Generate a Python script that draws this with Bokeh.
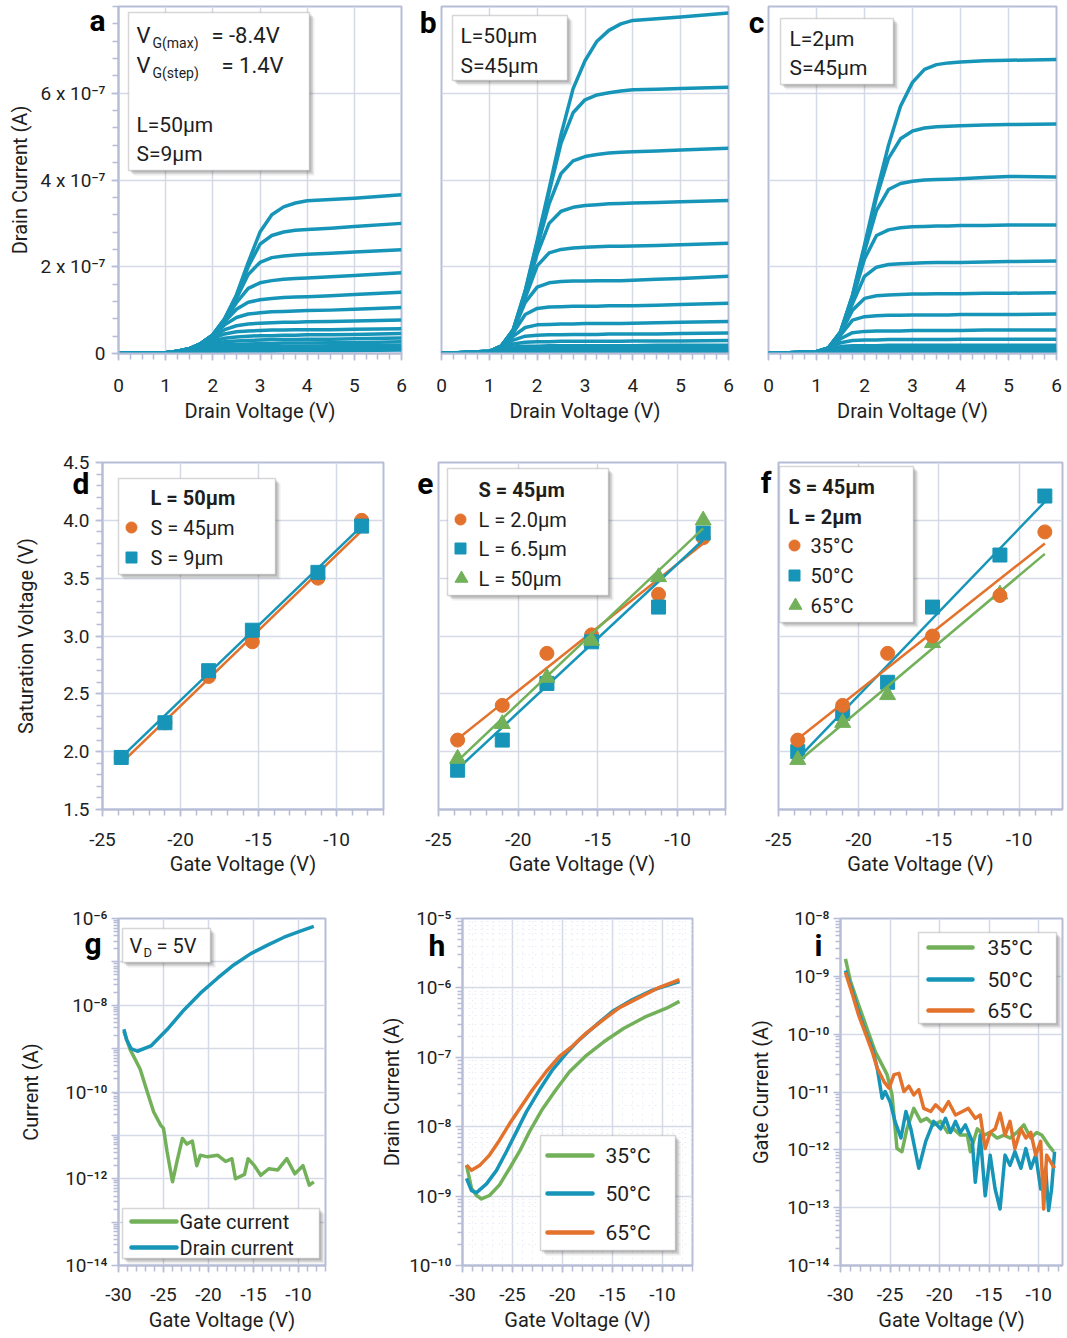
import numpy as np
from bokeh.plotting import figure
from bokeh.layouts import row, column
from bokeh.models import Label, FixedTicker, Range1d, BoxAnnotation, LinearAxis
from bokeh.embed import file_html
from bokeh.resources import INLINE

FONT = "Roboto"
BLUE = "#1795b8"
ORANGE = "#e2722c"
GREEN = "#72b15a"
FRAME_C = "#b8bdd7"
GRID_C = "#d6dae6"
TXT = "#1e1e1e"

# ---------------- Row 1: output characteristics (drain current in units of 1e-7 A) -------------
VD = [0, 1.0, 1.25, 1.5, 1.75, 2.0, 2.25, 2.5, 2.75, 3.0, 3.25, 3.5, 3.75, 4.0, 4.5, 5.0, 6.0]
ID_SCALE_LABEL = "x 10⁻⁷"
IDS_A = [
    [0, 0.02, 0.05, 0.11, 0.23, 0.43, 0.80, 1.35, 2.10, 2.80, 3.20, 3.38, 3.47, 3.52, 3.55, 3.58, 3.66],
    [0, 0.02, 0.05, 0.11, 0.23, 0.43, 0.80, 1.33, 2.00, 2.52, 2.72, 2.80, 2.84, 2.86, 2.89, 2.93, 3.00],
    [0, 0.02, 0.05, 0.11, 0.23, 0.43, 0.79, 1.27, 1.82, 2.10, 2.21, 2.25, 2.27, 2.29, 2.31, 2.34, 2.39],
    [0, 0.02, 0.05, 0.11, 0.23, 0.43, 0.77, 1.17, 1.50, 1.63, 1.68, 1.71, 1.73, 1.74, 1.77, 1.80, 1.86],
    [0, 0.02, 0.05, 0.11, 0.23, 0.42, 0.73, 1.02, 1.18, 1.24, 1.27, 1.29, 1.30, 1.31, 1.33, 1.36, 1.41],
    [0, 0.02, 0.05, 0.11, 0.23, 0.41, 0.66, 0.83, 0.91, 0.94, 0.96, 0.97, 0.98, 0.99, 1.00, 1.02, 1.06],
    [0, 0.02, 0.05, 0.11, 0.22, 0.39, 0.55, 0.64, 0.68, 0.70, 0.71, 0.72, 0.72, 0.73, 0.74, 0.75, 0.77],
    [0, 0.02, 0.05, 0.11, 0.21, 0.35, 0.45, 0.50, 0.52, 0.53, 0.54, 0.54, 0.55, 0.55, 0.55, 0.56, 0.57],
    [0, 0.02, 0.05, 0.10, 0.19, 0.29, 0.35, 0.38, 0.40, 0.41, 0.41, 0.42, 0.42, 0.43, 0.43, 0.44, 0.46],
    [0, 0.02, 0.04, 0.09, 0.16, 0.23, 0.27, 0.29, 0.30, 0.31, 0.32, 0.32, 0.32, 0.33, 0.33, 0.34, 0.36],
    [0, 0.02, 0.04, 0.08, 0.13, 0.17, 0.20, 0.21, 0.22, 0.23, 0.23, 0.24, 0.24, 0.24, 0.25, 0.25, 0.27],
    [0, 0.02, 0.03, 0.06, 0.10, 0.12, 0.14, 0.15, 0.16, 0.16, 0.17, 0.17, 0.17, 0.17, 0.18, 0.18, 0.19],
    [0, 0.01, 0.02, 0.05, 0.07, 0.08, 0.09, 0.10, 0.10, 0.11, 0.11, 0.11, 0.11, 0.12, 0.12, 0.12, 0.13],
    [0, 0.01, 0.02, 0.03, 0.04, 0.05, 0.05, 0.06, 0.06, 0.06, 0.06, 0.07, 0.07, 0.07, 0.07, 0.07, 0.08],
]
IDS_B = [
    [0, 0.05, 0.17, 0.55, 1.45, 2.60, 3.80, 5.05, 6.10, 6.75, 7.20, 7.45, 7.60, 7.68, 7.72, 7.76, 7.85],
    [0, 0.05, 0.17, 0.55, 1.43, 2.55, 3.72, 4.85, 5.55, 5.85, 5.96, 6.01, 6.05, 6.08, 6.09, 6.11, 6.14],
    [0, 0.05, 0.17, 0.54, 1.40, 2.45, 3.45, 4.15, 4.44, 4.54, 4.59, 4.62, 4.64, 4.65, 4.67, 4.69, 4.73],
    [0, 0.05, 0.17, 0.54, 1.35, 2.30, 3.00, 3.28, 3.37, 3.41, 3.43, 3.45, 3.46, 3.47, 3.48, 3.50, 3.53],
    [0, 0.05, 0.17, 0.53, 1.28, 2.02, 2.32, 2.40, 2.43, 2.45, 2.46, 2.47, 2.47, 2.48, 2.49, 2.51, 2.54],
    [0, 0.05, 0.17, 0.52, 1.18, 1.53, 1.63, 1.66, 1.67, 1.67, 1.68, 1.68, 1.68, 1.69, 1.71, 1.73, 1.78],
    [0, 0.05, 0.16, 0.48, 0.90, 1.04, 1.07, 1.08, 1.09, 1.09, 1.09, 1.10, 1.10, 1.10, 1.11, 1.13, 1.16],
    [0, 0.04, 0.15, 0.40, 0.60, 0.66, 0.67, 0.68, 0.68, 0.69, 0.69, 0.69, 0.69, 0.70, 0.71, 0.72, 0.74],
    [0, 0.04, 0.13, 0.31, 0.40, 0.42, 0.43, 0.43, 0.44, 0.44, 0.44, 0.45, 0.45, 0.45, 0.45, 0.46, 0.47],
    [0, 0.04, 0.11, 0.22, 0.26, 0.27, 0.27, 0.28, 0.28, 0.28, 0.28, 0.28, 0.28, 0.29, 0.29, 0.29, 0.30],
    [0, 0.03, 0.09, 0.15, 0.17, 0.17, 0.18, 0.18, 0.18, 0.18, 0.18, 0.18, 0.18, 0.18, 0.19, 0.19, 0.19],
    [0, 0.03, 0.07, 0.10, 0.11, 0.11, 0.11, 0.11, 0.11, 0.12, 0.12, 0.12, 0.12, 0.12, 0.12, 0.12, 0.12],
    [0, 0.02, 0.05, 0.06, 0.06, 0.07, 0.07, 0.07, 0.07, 0.07, 0.07, 0.07, 0.07, 0.07, 0.07, 0.07, 0.07],
    [0, 0.01, 0.03, 0.03, 0.04, 0.04, 0.04, 0.04, 0.04, 0.04, 0.04, 0.04, 0.04, 0.04, 0.04, 0.04, 0.04],
]
IDS_C = [
    [0, 0.04, 0.13, 0.50, 1.35, 2.50, 3.70, 4.80, 5.70, 6.25, 6.55, 6.66, 6.70, 6.72, 6.75, 6.76, 6.78],
    [0, 0.04, 0.13, 0.50, 1.33, 2.45, 3.60, 4.50, 4.95, 5.13, 5.20, 5.23, 5.24, 5.25, 5.27, 5.28, 5.29],
    [0, 0.04, 0.13, 0.49, 1.30, 2.35, 3.30, 3.78, 3.92, 3.97, 4.00, 4.01, 4.02, 4.03, 4.06, 4.08, 4.07],
    [0, 0.04, 0.13, 0.49, 1.25, 2.18, 2.72, 2.85, 2.90, 2.92, 2.93, 2.94, 2.94, 2.95, 2.95, 2.96, 2.96],
    [0, 0.04, 0.13, 0.48, 1.15, 1.78, 1.99, 2.05, 2.07, 2.08, 2.09, 2.10, 2.10, 2.10, 2.11, 2.12, 2.13],
    [0, 0.04, 0.13, 0.46, 1.00, 1.27, 1.33, 1.35, 1.36, 1.37, 1.37, 1.38, 1.38, 1.38, 1.39, 1.39, 1.40],
    [0, 0.04, 0.12, 0.42, 0.77, 0.85, 0.87, 0.88, 0.88, 0.89, 0.89, 0.89, 0.89, 0.90, 0.90, 0.90, 0.91],
    [0, 0.04, 0.11, 0.34, 0.48, 0.51, 0.52, 0.52, 0.52, 0.53, 0.53, 0.53, 0.53, 0.53, 0.54, 0.54, 0.54],
    [0, 0.03, 0.10, 0.25, 0.30, 0.31, 0.31, 0.32, 0.32, 0.32, 0.32, 0.32, 0.32, 0.33, 0.33, 0.33, 0.33],
    [0, 0.03, 0.08, 0.16, 0.18, 0.18, 0.18, 0.19, 0.19, 0.19, 0.19, 0.19, 0.19, 0.19, 0.19, 0.19, 0.19],
    [0, 0.02, 0.06, 0.10, 0.11, 0.11, 0.11, 0.11, 0.12, 0.12, 0.12, 0.12, 0.12, 0.12, 0.12, 0.12, 0.12],
    [0, 0.02, 0.04, 0.05, 0.06, 0.06, 0.06, 0.06, 0.06, 0.06, 0.06, 0.06, 0.06, 0.06, 0.06, 0.06, 0.06],
    [0, 0.01, 0.02, 0.03, 0.03, 0.04, 0.04, 0.04, 0.04, 0.04, 0.04, 0.04, 0.04, 0.04, 0.04, 0.04, 0.04],
]

# ---------------- Row 2: saturation voltage vs gate voltage -------------
VG_SAT = [-23.8, -21.0, -18.2, -15.4, -11.2, -8.4]
FIT_X = [-23.8, -8.4]
D_S45 = [1.95, 2.25, 2.65, 2.95, 3.50, 4.00]
D_S9 = [1.95, 2.25, 2.70, 3.05, 3.55, 3.95]
D_FIT_S45 = [1.90, 3.91]
D_FIT_S9 = [1.95, 3.95]
E_L2 = [2.10, 2.40, 2.85, 3.01, 3.36, 3.85]
E_L65 = [1.84, 2.10, 2.59, 2.95, 3.25, 3.89]
E_L50 = [1.94, 2.24, 2.64, 2.96, 3.51, 4.00]
E_FIT_L2 = [2.11, 3.80]
E_FIT_L65 = [1.85, 3.83]
E_FIT_L50 = [1.92, 3.93]
F_35C = [2.10, 2.40, 2.85, 3.00, 3.35, 3.90]
F_50C = [2.00, 2.33, 2.60, 3.25, 3.70, 4.21]
F_65C = [1.93, 2.25, 2.49, 2.94, 3.36, float("nan")]
F_FIT_35C = [2.11, 3.80]
F_FIT_50C = [1.94, 4.16]
F_FIT_65C = [1.91, 3.71]

# ---------------- Row 3: transfer curves (A) -------------
G_VG_DRAIN = [-29.4, -29.1, -28.6, -27.9, -26.4, -24.6, -22.7, -20.9, -19.0, -17.2, -15.3, -13.5, -11.6, -9.8, -8.3]
G_ID = [2.8e-9, 1.6e-9, 1.0e-9, 8.7e-10, 1.15e-9, 2.75e-9, 7.9e-9, 1.9e-8, 4.2e-8, 8.5e-8, 1.55e-7, 2.4e-7,
        3.7e-7, 5.1e-7, 6.6e-7]
G_VG_GATE = [-29.4, -28.7, -27.6, -26.8, -26.1, -25.3, -25.0, -24.6, -24.0, -23.5, -22.9, -22.4, -21.8, -21.3,
             -20.9, -20.1, -19.0, -18.1, -17.4, -17.0, -16.0, -15.6, -14.9, -14.2, -13.3, -12.3, -11.3, -10.4,
             -9.5, -8.8, -8.3]
G_IG = [2.5e-9, 9.5e-10, 3.4e-10, 1.0e-10, 3.5e-11, 1.7e-11, 1.45e-11, 4.2e-12, 8.5e-13, 2.5e-12, 8.5e-12,
        6.3e-12, 7.4e-12, 2.0e-12, 3.5e-12, 3.2e-12, 3.5e-12, 2.5e-12, 2.9e-12, 1.0e-12, 1.26e-12, 2.9e-12,
        2.0e-12, 1.2e-12, 1.7e-12, 1.6e-12, 2.9e-12, 1.3e-12, 2.0e-12, 7.1e-13, 8.5e-13]

H_VG_35 = [-29.6, -29.1, -28.6, -28.1, -27.3, -26.3, -25.3, -24.3, -23.3, -22.0, -20.6, -19.3, -17.6, -15.9,
           -13.9, -11.6, -9.6, -8.3]
H_ID_35 = [2.8e-9, 1.3e-9, 1.02e-9, 9.1e-10, 1.02e-9, 1.45e-9, 2.5e-9, 4.4e-9, 8.5e-9, 1.8e-8, 3.5e-8, 6.2e-8,
           1.07e-7, 1.66e-7, 2.6e-7, 3.9e-7, 5.1e-7, 6.4e-7]
H_VG_50 = [-29.6, -29.1, -28.6, -27.6, -26.6, -25.6, -24.6, -23.6, -22.3, -21.0, -19.6, -18.3, -16.6, -15.0,
           -13.0, -11.0, -8.3]
H_ID_50 = [1.8e-9, 1.2e-9, 1.12e-9, 1.5e-9, 2.35e-9, 4.4e-9, 8.5e-9, 1.65e-8, 3.4e-8, 6.6e-8, 1.15e-7, 1.8e-7,
           2.95e-7, 4.6e-7, 6.8e-7, 9.3e-7, 1.23e-6]
H_VG_65 = [-29.6, -29.1, -28.3, -27.3, -26.3, -25.3, -24.3, -23.0, -21.6, -20.3, -19.0, -17.6, -15.9, -14.3,
           -12.3, -10.3, -8.3]
H_ID_65 = [2.8e-9, 2.35e-9, 2.75e-9, 3.9e-9, 6.4e-9, 1.1e-8, 1.8e-8, 3.4e-8, 6.3e-8, 1.03e-7, 1.45e-7, 2.25e-7,
           3.5e-7, 5.2e-7, 7.3e-7, 1.02e-6, 1.31e-6]

I_VG_35 = [-29.5, -29.0, -28.3, -27.6, -27.0, -26.5, -25.8, -25.3, -24.8, -24.3, -23.8, -23.3, -22.6, -21.9,
           -21.3, -20.6, -19.9, -19.2, -18.6, -17.9, -17.2, -16.9, -16.2, -15.5, -14.9, -14.2, -13.5, -12.9,
           -12.2, -11.5, -10.8, -10.2, -9.7, -9.0, -8.5]
I_IG_35 = [2.0e-9, 8.3e-10, 3.7e-10, 1.7e-10, 8.7e-11, 5.0e-11, 2.95e-11, 2.0e-11, 8.9e-12, 1.05e-12, 9.3e-13,
           2.3e-12, 5.2e-12, 3.1e-12, 3.5e-12, 2.7e-12, 3.1e-12, 2.0e-12, 2.3e-12, 1.8e-12, 1.8e-12, 9.3e-13,
           2.3e-12, 1.8e-12, 2.0e-12, 1.6e-12, 1.8e-12, 1.6e-12, 2.0e-12, 2.7e-12, 1.6e-12, 2.0e-12, 1.8e-12,
           1.2e-12, 9.3e-13]
I_VG_50 = [-29.5, -28.8, -28.2, -27.5, -26.8, -26.3, -25.8, -25.5, -25.0, -24.5, -23.9, -23.4, -22.9, -22.1,
           -21.4, -20.6, -19.9, -19.4, -18.9, -18.4, -17.9, -17.4, -16.7, -16.4, -15.9, -15.4, -14.9, -14.4,
           -13.9, -13.4, -12.9, -12.4, -11.8, -11.3, -10.8, -10.3, -9.8, -9.3, -9.0, -8.7, -8.4]
I_IG_50 = [1.26e-9, 5.6e-10, 2.5e-10, 1.12e-10, 5.8e-11, 2.6e-11, 7.8e-12, 1.02e-11, 6.8e-12, 3.1e-12, 1.6e-12,
           4.6e-12, 2.3e-12, 4.8e-13, 1.4e-12, 3.1e-12, 2.3e-12, 3.5e-12, 2.0e-12, 3.1e-12, 2.0e-12, 2.7e-12,
           1.4e-12, 2.75e-13, 1.8e-12, 1.6e-13, 8.1e-13, 2.1e-13, 9.5e-14, 8.1e-13, 5.4e-13, 9.3e-13, 4.8e-13,
           1.05e-12, 4.8e-13, 8.1e-13, 2.1e-13, 4.8e-13, 8.9e-14, 2.1e-13, 9.3e-13]
I_VG_65 = [-29.5, -28.8, -28.2, -27.5, -26.8, -26.3, -25.6, -25.1, -24.6, -24.1, -23.6, -23.1, -22.6, -22.1,
           -21.6, -20.9, -20.4, -19.7, -19.1, -18.4, -17.7, -17.1, -16.4, -15.9, -15.4, -14.9, -14.4, -13.9,
           -13.4, -12.9, -12.4, -11.8, -11.3, -10.8, -10.3, -9.8, -9.5, -9.2, -8.8, -8.4]
I_IG_65 = [1.17e-9, 4.9e-10, 2.2e-10, 1.05e-10, 5.0e-11, 2.6e-11, 1.5e-11, 1.17e-11, 2.0e-11, 2.1e-11, 1.02e-11,
           1.26e-11, 8.9e-12, 1.1e-11, 5.2e-12, 4.6e-12, 6.0e-12, 4.6e-12, 6.8e-12, 4.0e-12, 4.6e-12, 5.2e-12,
           3.5e-12, 4.0e-12, 1.05e-12, 2.0e-12, 2.3e-12, 4.3e-12, 1.8e-12, 3.1e-12, 1.05e-12, 2.3e-12, 1.6e-12,
           2.0e-12, 8.1e-13, 1.4e-12, 9.5e-14, 8.1e-13, 6.2e-13, 4.8e-13]

# ---------------- tick labels -------------
SUP = str.maketrans("-0123456789", "⁻⁰¹²³⁴⁵⁶⁷⁸⁹")
def pow10(e):
    return "10" + str(e).translate(SUP)

TICK_VD = [0, 1, 2, 3, 4, 5, 6]
TICK_VD_LABELS = ["0", "1", "2", "3", "4", "5", "6"]
TICK_ID = [0, 2, 4, 6]
TICK_ID_LABELS = ["0", "2 " + ID_SCALE_LABEL, "4 " + ID_SCALE_LABEL, "6 " + ID_SCALE_LABEL]
TICK_VG_SAT = [-25, -20, -15, -10]
TICK_VG_SAT_LABELS = ["-25", "-20", "-15", "-10"]
TICK_VSAT = [1.5, 2.0, 2.5, 3.0, 3.5, 4.0, 4.5]
TICK_VSAT_LABELS = ["1.5", "2.0", "2.5", "3.0", "3.5", "4.0", "4.5"]
TICK_VG_T = [-30, -25, -20, -15, -10]
TICK_VG_T_LABELS = ["-30", "-25", "-20", "-15", "-10"]
EXP_G = [-14, -13, -12, -11, -10, -9, -8, -7, -6]
EXP_G_LABELED = [-14, -12, -10, -8, -6]
EXP_H = [-10, -9, -8, -7, -6, -5]
EXP_I = [-14, -13, -12, -11, -10, -9, -8]


class Geo:
    """page-pixel geometry of a plot frame, used to place annotations"""
    def __init__(self, left, top, w, h, xr, yr, ylog=False):
        self.left, self.top, self.w, self.h = left, top, w, h
        self.xr, self.yr, self.ylog = xr, yr, ylog

    def x(self, px):
        return self.xr[0] + (px - self.left) / self.w * (self.xr[1] - self.xr[0])

    def y(self, py):
        f = (self.top + self.h - py) / self.h
        if self.ylog:
            a, b = np.log10(self.yr[0]), np.log10(self.yr[1])
            return float(10 ** (a + f * (b - a)))
        return self.yr[0] + f * (self.yr[1] - self.yr[0])


def make_fig(g, bl, br, bt, bb):
    p = figure(frame_width=g.w, frame_height=g.h, min_border_left=bl, min_border_right=br,
               min_border_top=bt, min_border_bottom=bb, x_range=Range1d(*g.xr), y_range=Range1d(*g.yr),
               y_axis_type="log" if g.ylog else "linear", toolbar_location=None, output_backend="svg")
    p.outline_line_color = FRAME_C
    p.outline_line_width = 2
    p.outline_line_alpha = 1
    p.background_fill_color = "white"
    p.border_fill_color = "white"
    p.grid.grid_line_color = GRID_C
    p.grid.grid_line_width = 1.5
    for ax in p.axis:
        ax.axis_line_color = FRAME_C
        ax.axis_line_width = 2
        ax.major_tick_line_color = FRAME_C
        ax.minor_tick_line_color = FRAME_C
        ax.major_tick_line_width = 1.5
        ax.minor_tick_line_width = 1.5
        ax.major_tick_in = 0
        ax.major_tick_out = 7
        ax.minor_tick_in = 0
        ax.minor_tick_out = 6
        ax.major_label_text_font = FONT
        ax.major_label_text_font_size = "19px"
        ax.major_label_text_color = TXT
        ax.axis_label_text_font = FONT
        ax.axis_label_text_font_size = "20px"
        ax.axis_label_text_font_style = "normal"
        ax.axis_label_text_color = TXT
    return p


def set_ticks(p, xt, xl, xm, yt, yl, ym, xtitle, ytitle=None, xstand=(8, 2), ystand=(6, 6)):
    tx = FixedTicker(ticks=xt, minor_ticks=xm)
    ty = FixedTicker(ticks=yt, minor_ticks=ym)
    p.xaxis.ticker = tx
    p.xgrid.ticker = tx
    p.yaxis.ticker = ty
    p.ygrid.ticker = ty
    p.xaxis.major_label_overrides = dict(zip(xt, xl))
    p.yaxis.major_label_overrides = dict(zip(yt, yl))
    p.xaxis.axis_label = xtitle
    p.xaxis.major_label_standoff = xstand[0]
    p.xaxis.axis_label_standoff = xstand[1]
    if ytitle is None:
        p.yaxis.visible = False
    else:
        p.yaxis.axis_label = ytitle
        p.yaxis.major_label_standoff = ystand[0]
        p.yaxis.axis_label_standoff = ystand[1]


def box(p, g, x0, y0, x1, y1):
    for off, alpha in ((5, 0.10), (3.5, 0.14), (2, 0.2)):
        p.add_layout(BoxAnnotation(left=g.x(x0 + off), right=g.x(x1 + off), top=g.y(y0 + off),
                                   bottom=g.y(y1 + off), fill_color="#505050", fill_alpha=alpha,
                                   line_alpha=0, level="annotation"))
    p.add_layout(BoxAnnotation(left=g.x(x0), right=g.x(x1), top=g.y(y0), bottom=g.y(y1),
                               fill_color="white", fill_alpha=1, line_color="#7a7a7a", line_width=1.5,
                               level="annotation"))


def txt(p, g, px, py, s, size=20, bold=False, align="left", color=TXT):
    p.add_layout(Label(x=g.x(px), y=g.y(py), text=s, text_font=FONT, text_font_size=f"{size}px",
                       text_font_style="bold" if bold else "normal", text_align=align,
                       text_baseline="middle", text_color=color, level="overlay"))


def letter_axis(p, g, px_right, py, s):
    """panel letter as the single tick label of the (otherwise unused) left axis slot"""
    yv = g.y(py)
    ax = LinearAxis(ticker=FixedTicker(ticks=[yv], minor_ticks=[]), major_label_overrides={yv: s},
                    axis_line_color=None, major_tick_line_color=None, minor_tick_line_color=None,
                    major_tick_out=0, major_tick_in=0, minor_tick_out=0, minor_tick_in=0,
                    major_label_text_font=FONT, major_label_text_font_size="30px",
                    major_label_text_font_style="bold", major_label_text_color="black",
                    major_label_standoff=int(round(g.left - px_right)))
    p.add_layout(ax, "left")


def letter_title(p, g, px_left, py_bottom, s):
    """panel letter as the plot title, pulled down beside the frame"""
    p.title.text = s
    p.title.align = "left"
    p.title.vertical_align = "bottom"
    p.title.offset = int(round(px_left - g.left))
    p.title.standoff = -int(round(2 * (py_bottom - g.top)))
    p.title.text_font = FONT
    p.title.text_font_size = "30px"
    p.title.text_font_style = "bold"
    p.title.text_color = "black"


def lmark(p, g, px, py, marker, color, size):
    r = p.scatter([g.x(px)], [g.y(py)], marker=marker, size=size, color=color)
    r.level = "overlay"


def lline(p, g, px0, px1, py, color, w=4.5):
    r = p.line([g.x(px0), g.x(px1)], [g.y(py), g.y(py)], line_color=color, line_width=w, line_cap="round")
    r.level = "overlay"


# ================= Row 1 =================
ROW1_TOP, ROW1_H = 6, 347
YR1 = (0, 8)
XR1 = (0, 6)
ga = Geo(118, ROW1_TOP, 283, ROW1_H, XR1, YR1)
gb = Geo(441, ROW1_TOP, 287, ROW1_H, XR1, YR1)
gc = Geo(768, ROW1_TOP, 288, ROW1_H, XR1, YR1)
pa = make_fig(ga, 118, 12, 6, 87)
pb = make_fig(gb, 28, 10, 6, 87)
pc = make_fig(gc, 30, 8, 6, 87)
x_minor1 = [0.25 * k for k in range(25)]
y_minor1 = [round(0.4 * k, 2) for k in range(21)]
for p, curves in ((pa, IDS_A), (pb, IDS_B), (pc, IDS_C)):
    set_ticks(p, TICK_VD, TICK_VD_LABELS, x_minor1, TICK_ID, TICK_ID_LABELS, y_minor1,
              "Drain Voltage (V)", "Drain Current (A)" if p is pa else None, xstand=(18, 4), ystand=(6, 6))
    for c in curves:
        p.line(VD, c, line_color=BLUE, line_width=3.5, line_join="round")

box(pa, ga, 128, 12, 309, 170)
txt(pa, ga, 136, 35, "V", 22)
txt(pa, ga, 152, 42, "G(max)", 14)
txt(pa, ga, 211, 35, "= -8.4V", 22)
txt(pa, ga, 136, 65, "V", 22)
txt(pa, ga, 152, 72, "G(step)", 14)
txt(pa, ga, 221, 65, "= 1.4V", 22)
txt(pa, ga, 136, 124, "L=50μm", 21)
txt(pa, ga, 136, 153, "S=9μm", 21)
letter_title(pa, ga, 89, 37, "a")

box(pb, gb, 452, 15, 567, 80)
txt(pb, gb, 460, 35, "L=50μm", 21)
txt(pb, gb, 460, 65, "S=45μm", 21)
letter_axis(pb, gb, 436, 22, "b")

box(pc, gc, 780, 18, 893, 84)
txt(pc, gc, 789, 38, "L=2μm", 21)
txt(pc, gc, 789, 67, "S=45μm", 21)
letter_axis(pc, gc, 764, 22, "c")

# ================= Row 2 =================
ROW2_TOP, ROW2_H = 462, 347
YR2 = (1.5, 4.5)
gd = Geo(102, ROW2_TOP, 281, ROW2_H, (-25, -7), YR2)
ge = Geo(438, ROW2_TOP, 287, ROW2_H, (-25, -7), YR2)
gf = Geo(778, ROW2_TOP, 284, ROW2_H, (-25, -7.3), YR2)
pd = make_fig(gd, 102, 17, 22, 81)
pe = make_fig(ge, 38, 15, 22, 81)
pf = make_fig(gf, 38, 2, 22, 81)
x_minor2 = list(range(-25, -6))
y_minor2 = [round(1.5 + 0.1 * k, 2) for k in range(31)]
for p in (pd, pe, pf):
    set_ticks(p, TICK_VG_SAT, TICK_VG_SAT_LABELS, x_minor2, TICK_VSAT, TICK_VSAT_LABELS, y_minor2,
              "Gate Voltage (V)", "Saturation Voltage (V)" if p is pd else None, xstand=(16, 3), ystand=(6, 22))

MS_C, MS_S, MS_T = 14, 14, 16
pd.line(FIT_X, D_FIT_S45, line_color=ORANGE, line_width=2.5)
pd.scatter(VG_SAT, D_S45, marker="circle", size=MS_C, color=ORANGE)
pd.line(FIT_X, D_FIT_S9, line_color=BLUE, line_width=2.5)
pd.scatter(VG_SAT, D_S9, marker="square", size=MS_S, color=BLUE)

pe.line(FIT_X, E_FIT_L2, line_color=ORANGE, line_width=2.5)
pe.scatter(VG_SAT, E_L2, marker="circle", size=MS_C, color=ORANGE)
pe.line(FIT_X, E_FIT_L65, line_color=BLUE, line_width=2.5)
pe.scatter(VG_SAT, E_L65, marker="square", size=MS_S, color=BLUE)
pe.line(FIT_X, E_FIT_L50, line_color=GREEN, line_width=2.5)
pe.scatter(VG_SAT, E_L50, marker="triangle", size=MS_T, color=GREEN)

pf.line(FIT_X, F_FIT_50C, line_color=BLUE, line_width=2.5)
pf.scatter(VG_SAT, F_50C, marker="square", size=MS_S, color=BLUE)
pf.line(FIT_X, F_FIT_65C, line_color=GREEN, line_width=2.5)
pf.scatter(VG_SAT, F_65C, marker="triangle", size=MS_T, color=GREEN)
pf.line(FIT_X, F_FIT_35C, line_color=ORANGE, line_width=2.5)
pf.scatter(VG_SAT, F_35C, marker="circle", size=MS_C, color=ORANGE)

box(pd, gd, 118, 478, 275, 574)
txt(pd, gd, 150, 497, "L = 50μm", 20, bold=True)
lmark(pd, gd, 131, 527, "circle", ORANGE, 11)
txt(pd, gd, 150, 527, "S = 45μm", 20)
lmark(pd, gd, 131, 557, "square", BLUE, 11)
txt(pd, gd, 150, 557, "S = 9μm", 20)
letter_title(pd, gd, 72, 500, "d")

box(pe, ge, 447, 468, 608, 595)
txt(pe, ge, 478, 489, "S = 45μm", 20, bold=True)
lmark(pe, ge, 460, 519, "circle", ORANGE, 11)
txt(pe, ge, 478, 519, "L = 2.0μm", 20)
lmark(pe, ge, 460, 548, "square", BLUE, 11)
txt(pe, ge, 478, 548, "L = 6.5μm", 20)
lmark(pe, ge, 461, 578, "triangle", GREEN, 13)
txt(pe, ge, 478, 578, "L = 50μm", 20)
letter_axis(pe, ge, 433, 483, "e")

box(pf, gf, 779, 466, 913, 622)
txt(pf, gf, 788, 486, "S = 45μm", 20, bold=True)
txt(pf, gf, 788, 516, "L = 2μm", 20, bold=True)
lmark(pf, gf, 794, 545, "circle", ORANGE, 11)
txt(pf, gf, 810, 545, "35°C", 20)
lmark(pf, gf, 794, 575, "square", BLUE, 11)
txt(pf, gf, 810, 575, "50°C", 20)
lmark(pf, gf, 795, 605, "triangle", GREEN, 13)
txt(pf, gf, 810, 605, "65°C", 20)
letter_axis(pf, gf, 771, 482, "f")

# ================= Row 3 =================
ROW3_TOP, ROW3_H = 918, 347
gg = Geo(118, ROW3_TOP, 207, ROW3_H, (-30, -7), (1e-14, 1e-6), ylog=True)
gh = Geo(462, ROW3_TOP, 230, ROW3_H, (-30, -7), (1e-10, 1e-5), ylog=True)
gi = Geo(840, ROW3_TOP, 222, ROW3_H, (-30, -7.6), (1e-14, 1e-8), ylog=True)
pg = make_fig(gg, 118, 20, 28, 71)
ph = make_fig(gh, 117, 20, 28, 71)
pi = make_fig(gi, 128, 2, 28, 71)
x_minor3 = list(range(-30, -6))


def log_minor(e0, e1):
    return [k * 10.0 ** e for e in range(e0, e1) for k in range(2, 10)]


set_ticks(pg, TICK_VG_T, TICK_VG_T_LABELS, x_minor3, [10.0 ** e for e in EXP_G],
          [pow10(e) if e in EXP_G_LABELED else "" for e in EXP_G], log_minor(-14, -6),
          "Gate Voltage (V)", "Current (A)", xstand=(15, 4), ystand=(4, 19))
set_ticks(ph, TICK_VG_T, TICK_VG_T_LABELS, x_minor3, [10.0 ** e for e in EXP_H],
          [pow10(e) for e in EXP_H], log_minor(-10, -5),
          "Gate Voltage (V)", "Drain Current (A)", xstand=(15, 4), ystand=(4, 2))
set_ticks(pi, TICK_VG_T, TICK_VG_T_LABELS, x_minor3, [10.0 ** e for e in EXP_I],
          [pow10(e) for e in EXP_I], log_minor(-14, -8),
          "Gate Voltage (V)", "Gate Current (A)", xstand=(15, 4), ystand=(4, 11))
for p in (pg, ph, pi):
    p.yaxis.minor_tick_out = 5
ph.xgrid.minor_grid_line_color = "#eceef4"
ph.xgrid.minor_grid_line_dash = "dotted"
ph.ygrid.minor_grid_line_color = "#eceef4"
ph.ygrid.minor_grid_line_dash = "dotted"

LW3 = 3.5
pg.line(G_VG_GATE, G_IG, line_color=GREEN, line_width=LW3, line_join="round")
pg.line(G_VG_DRAIN, G_ID, line_color=BLUE, line_width=LW3, line_join="round")

ph.line(H_VG_35, H_ID_35, line_color=GREEN, line_width=LW3, line_join="round")
ph.line(H_VG_50, H_ID_50, line_color=BLUE, line_width=LW3, line_join="round")
ph.line(H_VG_65, H_ID_65, line_color=ORANGE, line_width=LW3, line_join="round")

pi.line(I_VG_35, I_IG_35, line_color=GREEN, line_width=LW3, line_join="round")
pi.line(I_VG_50, I_IG_50, line_color=BLUE, line_width=LW3, line_join="round")
pi.line(I_VG_65, I_IG_65, line_color=ORANGE, line_width=LW3, line_join="round")

box(pg, gg, 122, 928, 210, 962)
txt(pg, gg, 129, 945, "V", 20)
txt(pg, gg, 143, 952, "D", 13)
txt(pg, gg, 156, 945, "= 5V", 20)
box(pg, gg, 122, 1208, 319, 1258)
lline(pg, gg, 131, 176, 1221, GREEN)
txt(pg, gg, 179, 1221, "Gate current", 20)
lline(pg, gg, 131, 176, 1247, BLUE)
txt(pg, gg, 179, 1247, "Drain current", 20)
letter_title(pg, gg, 84, 960, "g")

box(ph, gh, 540, 1135, 675, 1250)
lline(ph, gh, 547, 592, 1155, GREEN)
txt(ph, gh, 605, 1155, "35°C", 21)
lline(ph, gh, 547, 592, 1193, BLUE)
txt(ph, gh, 605, 1193, "50°C", 21)
lline(ph, gh, 547, 592, 1232, ORANGE)
txt(ph, gh, 605, 1232, "65°C", 21)
letter_title(ph, gh, 428, 962, "h")

box(pi, gi, 918, 932, 1056, 1023)
lline(pi, gi, 928, 972, 947, GREEN)
txt(pi, gi, 987, 947, "35°C", 21)
lline(pi, gi, 928, 972, 979, BLUE)
txt(pi, gi, 987, 979, "50°C", 21)
lline(pi, gi, 928, 972, 1010, ORANGE)
txt(pi, gi, 987, 1010, "65°C", 21)
letter_title(pi, gi, 814, 962, "i")

layout = column(row(pa, pb, pc), row(pd, pe, pf), row(pg, ph, pi))
open("out.html", "w").write(file_html(layout, INLINE))
